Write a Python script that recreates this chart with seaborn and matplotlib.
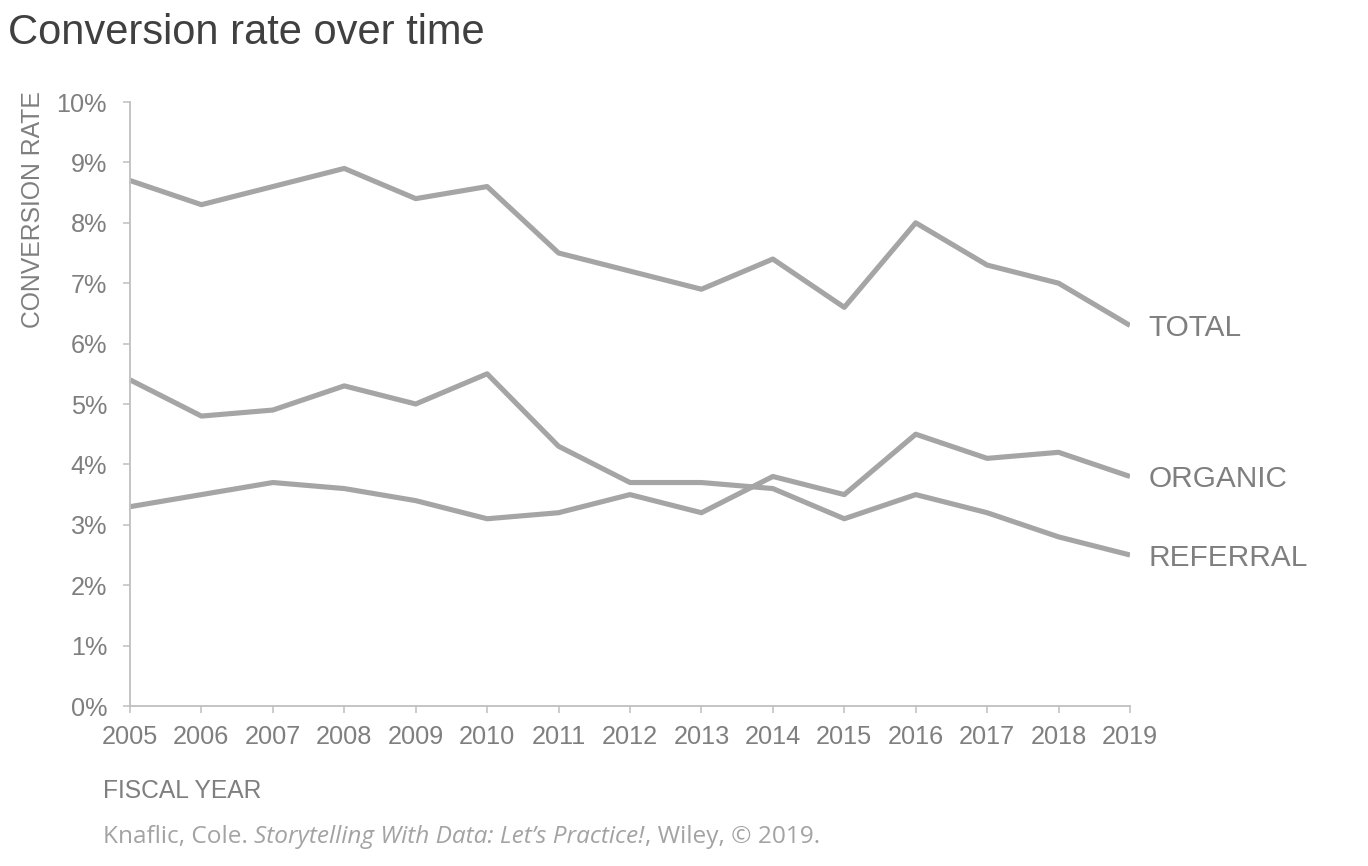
import matplotlib
matplotlib.use("Agg")
import matplotlib.pyplot as plt
import seaborn as sns
import pandas as pd
from matplotlib.ticker import FuncFormatter

years = list(range(2005, 2020))
total = [8.7, 8.3, 8.6, 8.9, 8.4, 8.6, 7.5, 7.2, 6.9, 7.4, 6.6, 8.0, 7.3, 7.0, 6.3]
organic = [3.3, 3.5, 3.7, 3.6, 3.4, 3.1, 3.2, 3.5, 3.2, 3.8, 3.5, 4.5, 4.1, 4.2, 3.8]
referral = [5.4, 4.8, 4.9, 5.3, 5.0, 5.5, 4.3, 3.7, 3.7, 3.6, 3.1, 3.5, 3.2, 2.8, 2.5]
series_names = ["TOTAL", "ORGANIC", "REFERRAL"]
y_ticks = list(range(0, 11))

rows = []
for name, vals in zip(series_names, [total, organic, referral]):
    for yr, v in zip(years, vals):
        rows.append({"year": yr, "rate": v, "series": name})
df = pd.DataFrame(rows)

sns.set_theme(style="white")
plt.rcParams["font.family"] = ["Liberation Sans", "DejaVu Sans"]

LINE = "#a5a5a5"
AXIS = "#bfbfbf"
TXT = "#7f7f7f"

fig = plt.figure(figsize=(13.68, 8.66), dpi=100)
ax = fig.add_axes([130 / 1368, 1 - 706 / 866, 1000 / 1368, 604 / 866])

sns.lineplot(data=df, x="year", y="rate", hue="series",
             palette={n: LINE for n in series_names}, linewidth=3.7,
             legend=False, ax=ax, solid_capstyle="butt")

ax.set_xlim(2005, 2019)
ax.set_ylim(0, 10)
ax.set_xticks(years)
ax.set_xticklabels([str(y) for y in years])
ax.set_yticks(y_ticks)
ax.yaxis.set_major_formatter(FuncFormatter(lambda v, p: f"{int(v)}%"))

for s in ["top", "right"]:
    ax.spines[s].set_visible(False)
for s in ["left", "bottom"]:
    ax.spines[s].set_color(AXIS)
    ax.spines[s].set_linewidth(1.3)

ax.tick_params(axis="y", which="major", direction="out", length=5, width=1.1,
               color=AXIS, labelcolor=TXT, labelsize=18.2, pad=11.5, left=True)
ax.tick_params(axis="x", which="major", direction="out", length=5, width=1.1,
               color=AXIS, labelcolor=TXT, labelsize=18.2, pad=8.5, bottom=True)
ax.set_xlabel("")
ax.set_ylabel("")
ax.grid(False)

# series labels at line ends
for name, vals in zip(series_names, [total, organic, referral]):
    ax.annotate(name, xy=(years[-1], vals[-1]), xytext=(13.5, -2),
                textcoords="offset points", va="center", ha="left",
                fontsize=21.4, color=TXT, annotation_clip=False)

# title
fig.text(8 / 1368, 1 - 44 / 866, "Conversion rate over time", fontsize=30,
         color="#404040", ha="left", va="baseline")

# y-axis title
fig.text(33 / 1368, 1 - 91 / 866, "CONVERSION RATE", rotation=90, fontsize=17.85,
         color=TXT, ha="center", va="top")

# x-axis title
fig.text(103 / 1368, 1 - 798 / 866, "FISCAL YEAR", fontsize=17.7,
         color=TXT, ha="left", va="baseline")

# source line (three runs, regular / italic / regular), fitted to the reference width
src_font = ["Open Sans", "DejaVu Sans"]
src_col = "#a3a3a3"
base_y = 1 - 843 / 866
parts = [("Knaflic, Cole. ", "normal"),
         ("Storytelling With Data: Let\u2019s Practice!", "italic"),
         (", Wiley, \u00a9 2019.", "normal")]
target_w = 846 - 103


def lay_out(size):
    texts = []
    x = 103 / 1368
    r = fig.canvas.get_renderer()
    inv = fig.transFigure.inverted()
    for s, st in parts:
        t = fig.text(x, base_y, s, fontsize=size, color=src_col, ha="left",
                     va="baseline", family=src_font, style=st)
        bb = t.get_window_extent(r)
        x = inv.transform((bb.x1, 0))[0]
        texts.append(t)
    return texts, x * 1368 - 103


fig.canvas.draw()
texts, w = lay_out(16.0)
size = 16.0 * target_w / w
for t in texts:
    t.remove()
size = min(size, 17.6)
lay_out(size)

fig.savefig("out.png", dpi=100, facecolor="white")
